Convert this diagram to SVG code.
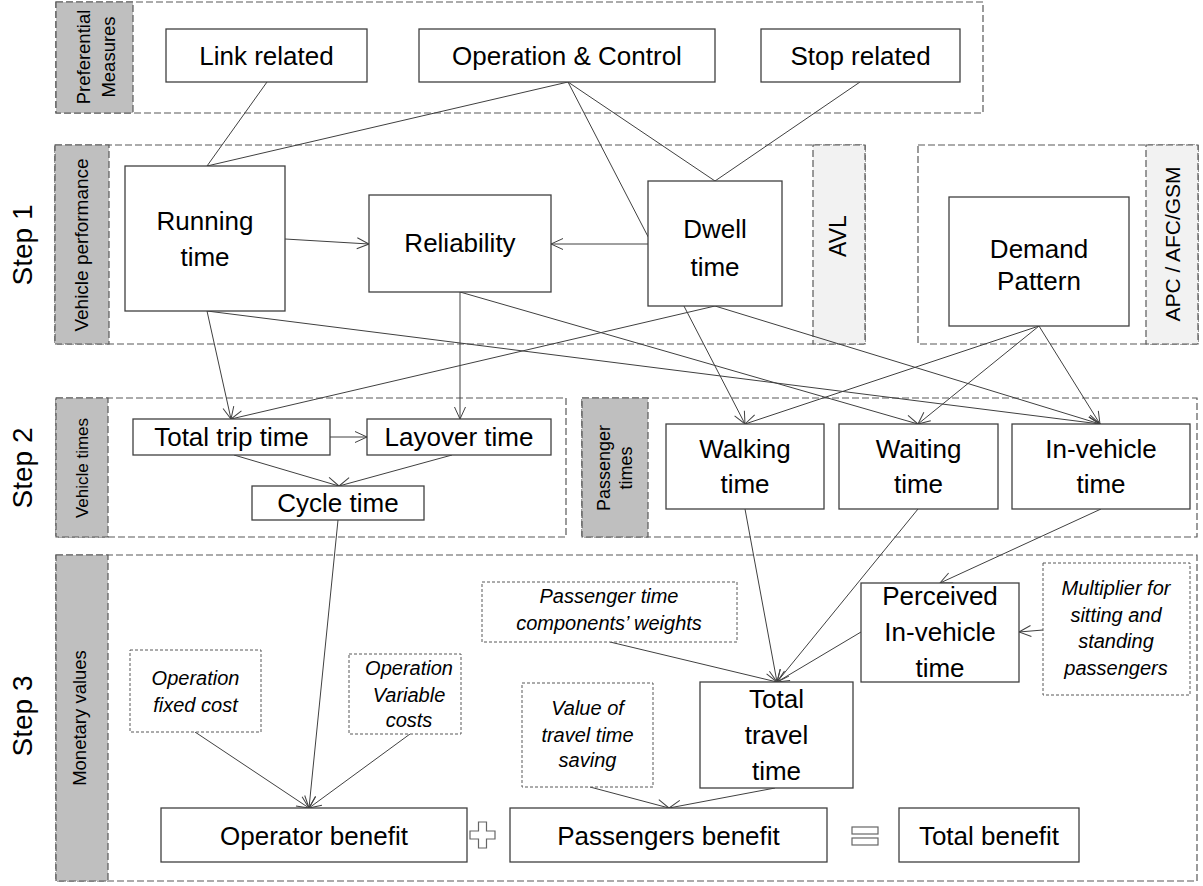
<svg xmlns="http://www.w3.org/2000/svg" width="1203" height="886" viewBox="0 0 1203 886">
<defs>
<style>
.panel{fill:none;stroke:#595959;stroke-width:1.2;stroke-dasharray:7,3}
.strip{fill:#bfbfbf;stroke:#595959;stroke-width:1.2;stroke-dasharray:7,3}
.strip2{fill:#f2f2f2;stroke:#595959;stroke-width:1.2;stroke-dasharray:7,3}
.node{fill:#fff;stroke:#404040;stroke-width:1.3}
.inp{fill:#fff;stroke:#595959;stroke-width:1;stroke-dasharray:3,2}
.t{font-family:"Liberation Sans",Arial,sans-serif;font-size:26px;fill:#000;text-anchor:middle}
.i{font-family:"Liberation Sans",Arial,sans-serif;font-size:20px;font-style:italic;fill:#000;text-anchor:middle}
.lab{font-family:"Liberation Sans",Arial,sans-serif;fill:#000;text-anchor:middle}
.c{fill:none;stroke:#404040;stroke-width:1}
.a{marker-end:url(#arr)}
.sym{fill:#fff;stroke:#666;stroke-width:1.2}
</style>
<marker id="arr" markerUnits="userSpaceOnUse" markerWidth="14" markerHeight="14" viewBox="0 0 14 14" refX="13" refY="7" orient="auto">
<path d="M1,1.5 L13,7 L1,12.5" fill="none" stroke="#404040" stroke-width="1"/>
</marker>
</defs>
<rect width="1203" height="886" fill="#fff"/>

<!-- Step labels -->
<g id="step-labels">
<text class="lab" font-size="28" transform="translate(32,245) rotate(-90)">Step 1</text>
<text class="lab" font-size="28" transform="translate(32,468) rotate(-90)">Step 2</text>
<text class="lab" font-size="28" transform="translate(32,716) rotate(-90)">Step 3</text>
</g>

<!-- Panels -->
<g id="panel-preferential">
<rect class="panel" x="56" y="2" width="927" height="111"/>
<rect class="strip" x="56" y="2" width="77" height="111"/>
<text class="lab" font-size="18.5" transform="translate(90,57) rotate(-90)">Preferential</text>
<text class="lab" font-size="18.5" transform="translate(115,57) rotate(-90)">Measures</text>
</g>
<g id="panel-vehicle-performance">
<rect class="panel" x="55" y="145" width="810" height="199"/>
<rect class="strip" x="55" y="145" width="54" height="199"/>
<text class="lab" font-size="19" transform="translate(88,245) rotate(-90)">Vehicle performance</text>
<rect class="strip2" x="813" y="145" width="52" height="199"/>
<text class="lab" font-size="23" transform="translate(846,236) rotate(-90)">AVL</text>
</g>
<g id="panel-demand">
<rect class="panel" x="918" y="145" width="280" height="199"/>
<rect class="strip2" x="1146" y="145" width="52" height="199"/>
<text class="lab" font-size="21" transform="translate(1180,244) rotate(-90)">APC / AFC/GSM</text>
</g>
<g id="panel-vehicle-times">
<rect class="panel" x="56" y="398" width="510" height="139"/>
<rect class="strip" x="56" y="398" width="52" height="139"/>
<text class="lab" font-size="17" transform="translate(88,468) rotate(-90)">Vehicle times</text>
</g>
<g id="panel-passenger-times">
<rect class="panel" x="582" y="398" width="615" height="139"/>
<rect class="strip" x="582" y="398" width="66" height="139"/>
<text class="lab" font-size="18" transform="translate(610,468) rotate(-90)">Passenger</text>
<text class="lab" font-size="18" transform="translate(632,468) rotate(-90)">times</text>
</g>
<g id="panel-monetary">
<rect class="panel" x="56" y="555" width="1141" height="326"/>
<rect class="strip" x="56" y="555" width="52" height="326"/>
<text class="lab" font-size="18.5" transform="translate(86,718) rotate(-90)">Monetary values</text>
</g>

<!-- Connectors -->
<g id="connectors">
<line class="c" x1="267" y1="82" x2="207" y2="166"/>
<line class="c" x1="568" y1="82" x2="207" y2="166"/>
<line class="c a" x1="568" y1="82" x2="745" y2="424"/>
<line class="c" x1="568" y1="82" x2="715" y2="181"/>
<line class="c" x1="860" y1="82" x2="715" y2="181"/>
<line class="c a" x1="285" y1="239" x2="369" y2="244"/>
<line class="c a" x1="648" y1="244" x2="551" y2="244"/>
<line class="c a" x1="207" y1="311" x2="231" y2="419"/>
<line class="c a" x1="207" y1="311" x2="1100" y2="424"/>
<line class="c a" x1="460" y1="292" x2="460" y2="419"/>
<line class="c a" x1="460" y1="292" x2="918" y2="424"/>
<line class="c a" x1="715" y1="306" x2="231" y2="419"/>
<line class="c a" x1="715" y1="306" x2="1100" y2="424"/>
<line class="c a" x1="1039" y1="326" x2="745" y2="424"/>
<line class="c a" x1="1039" y1="326" x2="918" y2="424"/>
<line class="c a" x1="1039" y1="326" x2="1100" y2="424"/>
<line class="c a" x1="330" y1="437" x2="367" y2="437"/>
<line class="c a" x1="234" y1="455" x2="339" y2="486"/>
<line class="c a" x1="452" y1="455" x2="339" y2="486"/>
<line class="c a" x1="338" y1="520" x2="309" y2="808"/>
<line class="c a" x1="745" y1="509" x2="777" y2="682"/>
<line class="c a" x1="918" y1="509" x2="777" y2="682"/>
<line class="c a" x1="1101" y1="509" x2="940" y2="583"/>
<line class="c a" x1="861" y1="632" x2="777" y2="682"/>
<line class="c a" x1="610" y1="642" x2="777" y2="682"/>
<line class="c a" x1="1043" y1="630" x2="1019" y2="632"/>
<line class="c a" x1="195" y1="732" x2="309" y2="808"/>
<line class="c a" x1="410" y1="734" x2="309" y2="808"/>
<line class="c a" x1="590" y1="787" x2="669" y2="808"/>
<line class="c a" x1="775" y1="788" x2="669" y2="808"/>
</g>

<!-- Nodes -->
<g id="link-related"><rect class="node" x="166" y="29" width="201" height="53"/><text class="t" x="266.5" y="65">Link related</text></g>
<g id="operation-control"><rect class="node" x="419" y="29" width="296" height="53"/><text class="t" x="567" y="65">Operation &amp; Control</text></g>
<g id="stop-related"><rect class="node" x="761" y="29" width="199" height="53"/><text class="t" x="860.5" y="65">Stop related</text></g>

<g id="running-time"><rect class="node" x="125" y="166" width="160" height="145"/><text class="t" x="205" y="230">Running</text><text class="t" x="205" y="266">time</text></g>
<g id="reliability"><rect class="node" x="369" y="195" width="182" height="97"/><text class="t" x="460" y="252">Reliability</text></g>
<g id="dwell-time"><rect class="node" x="648" y="181" width="134" height="125"/><text class="t" x="715" y="238">Dwell</text><text class="t" x="715" y="276">time</text></g>
<g id="demand-pattern"><rect class="node" x="949" y="197" width="180" height="129"/><text class="t" font-size="24.5" x="1039" y="258">Demand</text><text class="t" font-size="24.5" x="1039" y="290">Pattern</text></g>

<g id="total-trip-time"><rect class="node" x="133" y="419" width="197" height="36"/><text class="t" x="231.5" y="446">Total trip time</text></g>
<g id="layover-time"><rect class="node" x="367" y="419" width="184" height="36"/><text class="t" x="459" y="446">Layover time</text></g>
<g id="cycle-time"><rect class="node" x="252" y="486" width="172" height="34"/><text class="t" x="338" y="512">Cycle time</text></g>

<g id="walking-time"><rect class="node" x="666" y="424" width="158" height="85"/><text class="t" x="745" y="458">Walking</text><text class="t" x="745" y="493">time</text></g>
<g id="waiting-time"><rect class="node" x="839" y="424" width="159" height="85"/><text class="t" x="918.5" y="458">Waiting</text><text class="t" x="918.5" y="493">time</text></g>
<g id="in-vehicle-time"><rect class="node" x="1012" y="424" width="178" height="85"/><text class="t" x="1101" y="458">In-vehicle</text><text class="t" x="1101" y="493">time</text></g>

<g id="passenger-weights"><rect class="inp" x="482" y="582" width="255" height="60"/><text class="i" x="609" y="603">Passenger time</text><text class="i" x="609" y="630">components’ weights</text></g>
<g id="perceived-in-vehicle"><rect class="node" x="861" y="583" width="158" height="99"/><text class="t" x="940" y="605">Perceived</text><text class="t" x="940" y="641">In-vehicle</text><text class="t" x="940" y="677">time</text></g>
<g id="multiplier"><rect class="inp" x="1043" y="563" width="147" height="132"/><text class="i" x="1116" y="595">Multiplier for</text><text class="i" x="1116" y="622">sitting and</text><text class="i" x="1116" y="648">standing</text><text class="i" x="1116" y="675">passengers</text></g>
<g id="fixed-cost"><rect class="inp" x="130" y="650" width="131" height="82"/><text class="i" x="195.5" y="685">Operation</text><text class="i" x="195.5" y="712">fixed cost</text></g>
<g id="variable-costs"><rect class="inp" x="349" y="654" width="112" height="80"/><text class="i" x="409" y="675">Operation</text><text class="i" x="409" y="702">Variable</text><text class="i" x="409" y="727">costs</text></g>
<g id="value-travel-time"><rect class="inp" x="522" y="683" width="131" height="104"/><text class="i" x="587.5" y="715">Value of</text><text class="i" x="587.5" y="742">travel time</text><text class="i" x="587.5" y="767">saving</text></g>
<g id="total-travel-time"><rect class="node" x="700" y="682" width="153" height="106"/><text class="t" x="776.5" y="708">Total</text><text class="t" x="776.5" y="744">travel</text><text class="t" x="776.5" y="780">time</text></g>

<g id="operator-benefit"><rect class="node" x="161" y="808" width="306" height="54"/><text class="t" x="314" y="845">Operator  benefit</text></g>
<g id="plus"><path class="sym" d="M478.5,822 H486.5 V831 H495 V839 H486.5 V848 H478.5 V839 H470 V831 H478.5 Z"/></g>
<g id="passengers-benefit"><rect class="node" x="510" y="808" width="317" height="54"/><text class="t" x="668.5" y="845">Passengers benefit</text></g>
<g id="equals"><rect class="sym" x="852" y="827" width="26" height="7"/><rect class="sym" x="852" y="838" width="26" height="7"/></g>
<g id="total-benefit"><rect class="node" x="899" y="808" width="180" height="54"/><text class="t" x="989" y="845">Total benefit</text></g>
</svg>
